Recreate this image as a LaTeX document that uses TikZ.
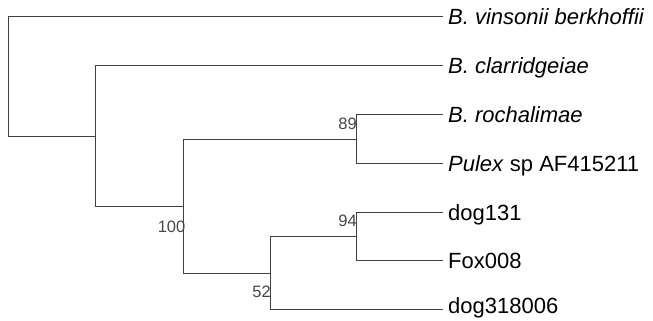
\documentclass[tikz,border=0pt]{standalone}
\usepackage{fontspec}
\setmainfont{Liberation Sans}
\begin{document}
\begin{tikzpicture}[x=1bp,y=-1bp,
  branch/.style={draw=black!75, line width=1.1bp},
  leaf/.style={anchor=west, inner xsep=5bp, inner ysep=0pt, text height=15.8bp, text depth=0pt,
    font=\fontsize{22bp}{24bp}\selectfont, text=black},
  boot/.style={anchor=base east, inner sep=0pt, font=\fontsize{16.5bp}{18bp}\selectfont, text=black!72}]
\useasboundingbox (0,0) rectangle (653,320);
% leaves
\node[leaf] (L1) at (443,16.5) {\itshape B. vinsonii berkhoffii};
\node[leaf] (L2) at (443,65.5) {\itshape B. clarridgeiae};
\node[leaf] (L3) at (443,114.5) {\itshape B. rochalimae};
\node[leaf] (L4) at (443,163.5) {\textit{Pulex} sp AF415211};
\node[leaf] (L5) at (443,212.5) {dog131};
\node[leaf] (L6) at (443,260.5) {Fox008};
\node[leaf, text height=7bp] (L7) at (443,309.5) {dog318006};
% internal nodes
\coordinate (n94) at (356.5,236.5);
\coordinate (n52) at (270.5,273.5);
\coordinate (n89) at (356.5,139.5);
\coordinate (nB) at (183.5,206.5);
\coordinate (nA) at (95.5,136.5);
\coordinate (root) at (8.5,76.5);
% branches
\draw[branch] (root) |- (L1.west);
\draw[branch] (root) |- (nA);
\draw[branch] (nA) |- (L2.west);
\draw[branch] (nA) |- (nB);
\draw[branch] (nB) |- (n89);
\draw[branch] (nB) |- (n52);
\draw[branch] (n89) |- (L3.west);
\draw[branch] (n89) |- (L4.west);
\draw[branch] (n52) |- (n94);
\draw[branch] (n52) |- (L7.west);
\draw[branch] (n94) |- (L5.west);
\draw[branch] (n94) |- (L6.west);
% bootstrap values
\node[boot] (b89) at (357,129.5) {89};
\node[boot] (b94) at (357,226.5) {94};
\node[boot] (b100) at (185.5,232.5) {100};
\node[boot] (b52) at (271,297.5) {52};
\end{tikzpicture}
\end{document}
